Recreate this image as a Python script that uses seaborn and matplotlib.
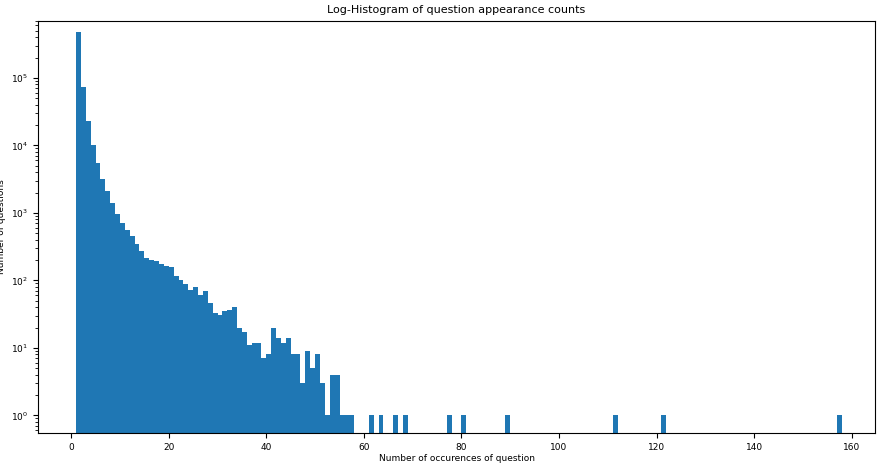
import numpy as np
import matplotlib
matplotlib.use("Agg")
import matplotlib.pyplot as plt
import seaborn as sns

occurrences = list(range(1, 58)) + [61, 63, 66, 68, 77, 80, 89, 111, 121, 157]
counts = [480000, 73000, 23000, 10000, 5500, 3200, 2100, 1400, 960, 700,
          550, 450, 350, 270, 215, 200, 195, 175, 165, 160,
          115, 100, 88, 73, 80, 60, 70, 47, 33, 31,
          35, 36, 40, 20, 17, 11, 12, 12, 7, 8,
          20, 14, 12, 14, 8, 8, 3, 9, 5, 8,
          3, 1, 4, 4, 1, 1, 1,
          1, 1, 1, 1, 1, 1, 1, 1, 1, 1]

plt.rcParams.update({"font.size": 7})
fig, ax = plt.subplots(figsize=(8.84, 4.63), dpi=100)
sns.histplot(x=occurrences, weights=counts, bins=157, binrange=(1, 158),
             color="#1f77b4", alpha=1, edgecolor="none", linewidth=0, ax=ax)
ax.set_yscale("log")
ax.set_ylim(0.55, 7e5)
ax.set_xlim(-6.8, 164.8)
ax.set_title("Log-Histogram of question appearance counts", fontsize=8)
ax.set_xlabel("Number of occurences of question", fontsize=6.5, labelpad=2)
ax.set_ylabel("Number of questions", fontsize=6.5, labelpad=4)
ax.tick_params(labelsize=6.5)
fig.subplots_adjust(left=0.043, right=0.99, top=0.955, bottom=0.065)
fig.savefig("out.png", dpi=100)
